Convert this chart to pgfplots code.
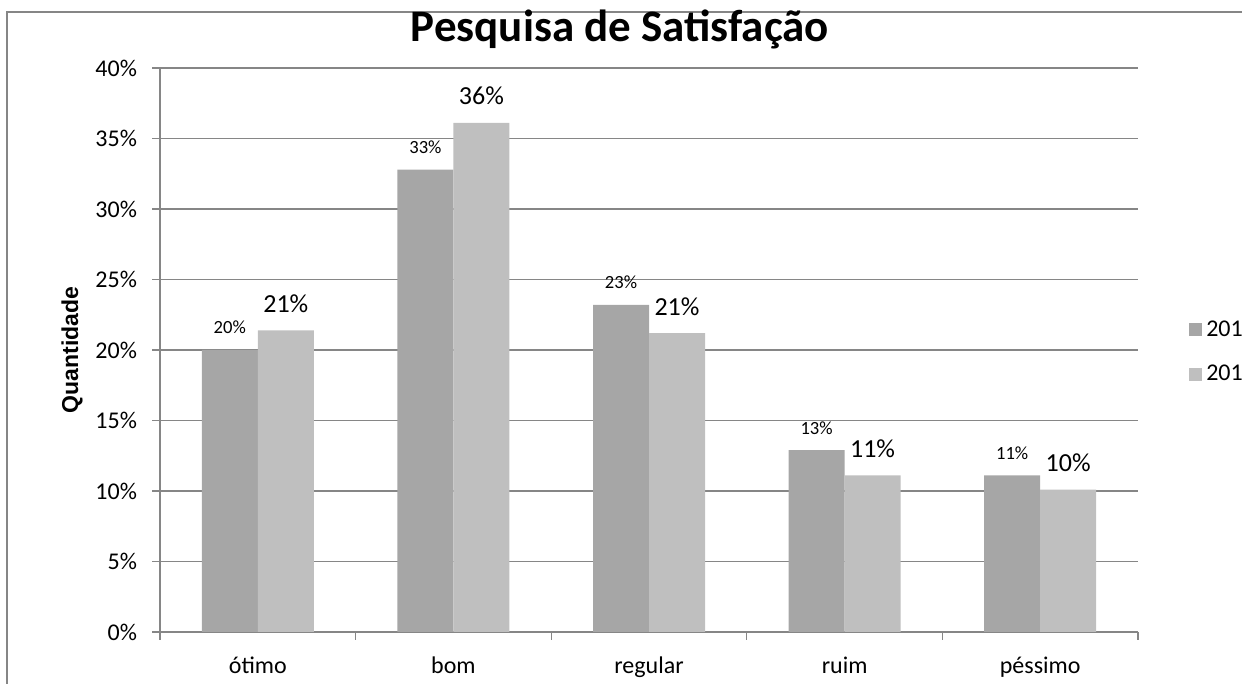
\documentclass[border=0pt]{standalone}
\usepackage{pgfplots}
\pgfplotsset{compat=1.18}
\usepackage{fontspec}
\setmainfont{Carlito}
\newfontfamily\arialfont{Liberation Sans}
\definecolor{darkbar}{HTML}{A6A6A6}
\definecolor{lightbar}{HTML}{BFBFBF}
\definecolor{gridgray}{HTML}{868686}
\begin{document}
\begin{tikzpicture}
\useasboundingbox (0,0) rectangle (621pt,342pt);
\clip (0,0) rectangle (621pt,342pt);
\draw[gridgray, line width=1pt] (3.5pt,-20pt) rectangle (700pt,336pt);
\begin{axis}[
  at={(80pt,26pt)}, anchor=south west,
  scale only axis, width=489pt, height=282pt,
  ybar=0pt, bar width=28pt,
  xmin=-0.5, xmax=4.5, ymin=0, ymax=40,
  axis x line=bottom, axis y line=left,
  axis line style={gridgray, line width=0.6pt, -},
  xtick={0,1,2,3,4},
  xticklabels={ótimo, bom, regular, ruim, péssimo},
  minor xtick={-0.5,0.5,1.5,2.5,3.5,4.5},
  major x tick style={draw=none},
  minor x tick style={gridgray, line width=0.6pt},
  minor tick length=4pt,
  tick align=outside,
  ytick={0,5,...,40},
  major y tick style={gridgray, line width=0.6pt},
  major tick length=4pt,
  ymajorgrids, grid style={gridgray, line width=0.6pt},
  yticklabel={\pgfmathprintnumber{\tick}\%},
  /pgf/number format/assume math mode=true,
  ticklabel style={font=\fontsize{12}{14}\selectfont},
  yticklabel style={anchor=east, xshift=-4pt},
  xticklabel style={anchor=base, yshift=-17pt},
  title={\textbf{Pesquisa de Satisfação}},
  title style={font=\fontsize{22.5}{26}\selectfont, at={(axis description cs:0.5,1)}, anchor=base, xshift=-14.5pt, yshift=7pt},
  ylabel={Quantidade},
  ylabel style={font=\arialfont\bfseries\fontsize{11.5}{13}\selectfont, at={(axis description cs:-0.09,0.5)}, anchor=center, rotate=0},
  legend style={draw=none, fill=none, at={(axis description cs:1.052,0.496)}, anchor=west, font=\fontsize{12}{14}\selectfont, row sep=9pt, inner sep=0pt},
  legend cell align=left,
  legend image code/.code={\fill[#1] (0pt,-3.25pt) rectangle (6.5pt,3.25pt);},
]
\addplot[fill=darkbar, draw=none,
  nodes near coords={\pgfmathprintnumber[fixed,precision=0]{\pgfplotspointmeta}\%},
  every node near coord/.append style={font=\fontsize{9.3}{11}\selectfont, anchor=base, inner sep=0pt, yshift=8pt, text=black}]
  coordinates {(0,20.0) (1,32.8) (2,23.2) (3,12.9) (4,11.1)};
\addplot[fill=lightbar, draw=none,
  nodes near coords={\pgfmathprintnumber[fixed,precision=0]{\pgfplotspointmeta}\%},
  every node near coord/.append style={font=\fontsize{13}{15}\selectfont, anchor=base, inner sep=0pt, yshift=9pt, text=black}]
  coordinates {(0,21.4) (1,36.1) (2,21.2) (3,11.1) (4,10.1)};
\legend{2011, 2012}
\end{axis}
\end{tikzpicture}
\end{document}
